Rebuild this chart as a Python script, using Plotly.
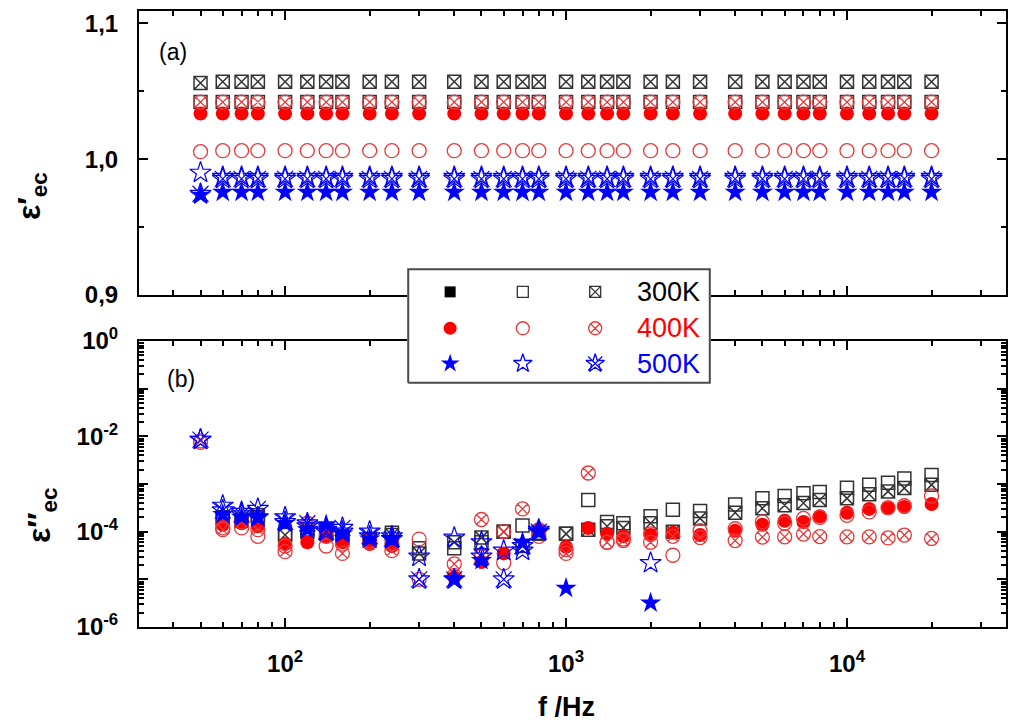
import plotly.graph_objects as go

# Measurement frequencies (Hz)
freq = [50, 60, 70, 80, 100, 120, 140, 160, 200, 240, 300, 400, 500, 600, 700, 800,
        1000, 1200, 1400, 1600, 2000, 2400, 3000, 4000, 5000, 6000, 7000, 8000,
        10000, 12000, 14000, 16000, 20000]

# ---- (a) real part eps'_ec ----
re_300_open = [1.042] * 33
re_300_cross = [1.056, 1.057, 1.057, 1.057, 1.057, 1.057, 1.057, 1.057, 1.057, 1.057, 1.057,
                1.057, 1.057, 1.057, 1.057, 1.057, 1.057, 1.057, 1.057, 1.057, 1.057, 1.057,
                1.057, 1.057, 1.057, 1.057, 1.057, 1.057, 1.057, 1.057, 1.057, 1.057, 1.057]
re_400_solid = [1.0335] * 33
re_400_open = [1.0055, 1.0062, 1.0062, 1.0062, 1.0062, 1.0062, 1.0062, 1.0062, 1.0062, 1.0062,
               1.0062, 1.0062, 1.0062, 1.0062, 1.0062, 1.0062, 1.0062, 1.0062, 1.0062, 1.0062,
               1.0062, 1.0062, 1.0062, 1.0062, 1.0062, 1.0062, 1.0062, 1.0062, 1.0062, 1.0062,
               1.0062, 1.0062, 1.0062]
re_400_cross = [1.042] * 33
re_500_solid = [0.9735, 0.9757, 0.9757, 0.9757, 0.9757, 0.9757, 0.9757, 0.9757, 0.9757, 0.9757,
                0.9757, 0.9757, 0.9757, 0.9757, 0.9757, 0.9757, 0.9757, 0.9757, 0.9757, 0.9757,
                0.9757, 0.9757, 0.9757, 0.9757, 0.9757, 0.9757, 0.9757, 0.9757, 0.9757, 0.9757,
                0.9757, 0.9757, 0.9757]
re_500_open = [0.990, 0.987, 0.987, 0.987, 0.987, 0.987, 0.987, 0.987, 0.987, 0.987, 0.987,
               0.987, 0.987, 0.987, 0.987, 0.987, 0.987, 0.987, 0.987, 0.987, 0.987, 0.987,
               0.987, 0.987, 0.987, 0.987, 0.987, 0.987, 0.987, 0.987, 0.987, 0.987, 0.987]
re_500_cross = [0.9745, 0.9855, 0.9855, 0.9855, 0.9855, 0.9855, 0.9855, 0.9855, 0.9855, 0.9855,
                0.9855, 0.9855, 0.9855, 0.9855, 0.9855, 0.9855, 0.9855, 0.9855, 0.9855, 0.9855,
                0.9855, 0.9855, 0.9855, 0.9855, 0.9855, 0.9855, 0.9855, 0.9855, 0.9855, 0.9855,
                0.9855, 0.9855, 0.9855]

# ---- (b) imaginary part eps''_ec ----
im_300_open = [None, 2.0e-4, 1.8e-4, 2.2e-4, 9e-5, 1.1e-4, 1.0e-4, 8e-5, 7e-5, 9.5e-5, 4.5e-5,
               4.5e-5, 6e-5, 1.0e-4, 1.35e-4, 9e-5, 9e-5, 4.6e-4, 1.6e-4, 1.5e-4, 2.1e-4,
               2.9e-4, 2.7e-4, 3.7e-4, 5.0e-4, 5.6e-4, 6.4e-4, 6.8e-4, 8.3e-4, 9.6e-4,
               1.06e-3, 1.3e-3, 1.55e-3]
im_300_cross = [None, 1.9e-4, 1.7e-4, 2.0e-4, 8.5e-5, 1.0e-4, 9e-5, 7.5e-5, 6.5e-5, 8.5e-5, 3.5e-5,
                6e-5, 7.5e-5, 1.0e-4, 5e-5, 9.5e-5, 9e-5, 1.1e-4, 1.3e-4, 1.2e-4, 1.5e-4,
                1.0e-4, 1.9e-4, 2.5e-4, 3.1e-4, 3.6e-4, 4.0e-4, 4.6e-4, 5.0e-4, 6.1e-4,
                7.0e-4, 8.2e-4, 9.6e-4]
im_400_solid = [None, 1.4e-4, 1.5e-4, 1.3e-4, 5.5e-5, 6e-5, 8e-5, 6e-5, 5.5e-5, 5e-5, None,
                1.1e-5, 2.3e-5, 3.5e-5, None, 1.1e-4, 4.8e-5, 1.2e-4, 9e-5, 8e-5, 8.5e-5,
                9.5e-5, 8.5e-5, 1.05e-4, 1.4e-4, 1.7e-4, 1.6e-4, 2.1e-4, 2.5e-4, 3.0e-4,
                3.1e-4, 3.3e-4, 3.8e-4]
im_400_open = [7.5e-3, 1.2e-4, 1.2e-4, 8e-5, 5e-5, 1.5e-4, 5e-5, 5.5e-5, 6e-5, 5.5e-5, 7e-5,
               1.2e-5, 3e-5, 2.2e-5, None, 8e-5, 4.2e-5, None, 6e-5, 7e-5, 9e-5,
               3.2e-5, 1.05e-4, 1.15e-4, 1.6e-4, 1.5e-4, 1.9e-4, 2.0e-4, 2.2e-4, 2.6e-4,
               3.2e-4, 3.5e-4, 5.6e-4]
im_400_cross = [8e-3, 1.1e-4, 1.6e-4, 1.1e-4, 3.8e-5, 1.3e-4, 8e-5, 3.5e-5, 6.5e-5, 4e-5, 1.0e-5,
                2.1e-5, 1.8e-4, 1.0e-4, 3.0e-4, 1.1e-4, 3.5e-5, 1.7e-3, 6e-5, 6.5e-5, 6e-5,
                8e-5, 7.5e-5, 6.5e-5, 7.7e-5, 7.8e-5, 8.9e-5, 7.9e-5, 7.8e-5, 7.8e-5,
                7.4e-5, 8.5e-5, 7.2e-5]
im_500_solid = [None, 2.3e-4, 2.0e-4, 2.0e-4, 1.5e-4, 1.1e-4, 1.4e-4, 9e-5, 7e-5, 7e-5, None,
                1.0e-5, 2.5e-5, None, 6e-5, 1.0e-4, 6.5e-6, None, None, None, 3.2e-6,
                None, None, None, None, None, None, None, None, None, None, None, None]
im_500_open = [8.5e-3, 3.5e-4, 2.6e-4, 2.0e-4, 2.0e-4, 1.3e-4, 1.1e-4, 1.0e-4, 1.0e-4, 8e-5, 3e-5,
               7.5e-5, 6e-5, 4e-5, 4e-5, 1.1e-4, None, None, None, None, 2.2e-5,
               None, None, None, None, None, None, None, None, None, None, None, None]
im_500_cross = [8.5e-3, 2.8e-4, 2.3e-4, 3.0e-4, 1.6e-4, 1.5e-4, 1.0e-4, 1.2e-4, 8e-5, 7e-5, 1.0e-5,
                1.0e-5, 3e-5, 1.0e-5, 5e-5, 1.0e-4, None, None, None, None, None,
                None, None, None, None, None, None, None, None, None, None, None, None]

temps = ["300K", "400K", "500K"]
temp_colors = ["#000000", "#ff0000", "#0000ff"]

BLACK = "#333333"
RED = "#ff0000"
RED_LINE = "#e8383a"
BLUE = "#0000ff"
FONT = "Liberation Sans, Arial, sans-serif"

fig = go.Figure()


def pts(x, y, symbol, color, size, lw, xa, ya, fill=None):
    fig.add_trace(go.Scatter(
        x=x, y=y, mode="markers", xaxis=xa, yaxis=ya, showlegend=False,
        hoverinfo="skip", cliponaxis=False,
        marker=dict(symbol=symbol, size=size, color=fill if fill else color,
                    line=dict(color=color, width=lw))))


def draw_panel(xa, ya, s300o, s300x, s400s, s400o, s400x, s500s, s500o, s500x):
    pts(freq, s300o, "square-open", BLACK, 13, 1.5, xa, ya)
    pts(freq, s300x, "square-x-open", BLACK, 13, 1.5, xa, ya)
    pts(freq, s400s, "circle", RED, 14, 0, xa, ya)
    pts(freq, s400o, "circle-open", RED_LINE, 14, 1.3, xa, ya)
    pts(freq, s400x, "circle-x-open", RED_LINE, 14, 1.3, xa, ya)
    pts(freq, s500s, "star", BLUE, 16, 0, xa, ya)
    pts(freq, s500o, "star-open", BLUE, 16, 1.2, xa, ya)
    pts(freq, s500x, "star-open", BLUE, 16, 1.2, xa, ya)
    pts(freq, s500x, "x-thin-open", BLUE, 16, 1.2, xa, ya)


draw_panel("x2", "y2", re_300_open, re_300_cross, re_400_solid, re_400_open, re_400_cross,
           re_500_solid, re_500_open, re_500_cross)
draw_panel("x", "y", im_300_open, im_300_cross, im_400_solid, im_400_open, im_400_cross,
           im_500_solid, im_500_open, im_500_cross)

# ---- key box (drawn in its own small subplot so it sits above the axes lines) ----
fig.add_trace(go.Scatter(x=[0, 1, 1, 0, 0], y=[0, 0, 1, 1, 0], mode="lines", fill="toself",
                         fillcolor="white", line=dict(color="#4a4a4a", width=2),
                         xaxis="x3", yaxis="y3", showlegend=False, hoverinfo="skip"))
key_cols = [0.139, 0.38, 0.62]
key_rows = [0.80, 0.48, 0.17]
key_syms = [["square", "square-open", "square-x-open"],
            ["circle", "circle-open", "circle-x-open"],
            ["star", "star-open", "star-open"]]
key_line = [[BLACK, BLACK, BLACK], [RED, RED_LINE, RED_LINE], [BLUE, BLUE, BLUE]]
key_size = [[11, 11, 11], [13, 13, 13], [14, 14, 14]]
for r in range(3):
    for c in range(3):
        pts([key_cols[c]], [key_rows[r]], key_syms[r][c], key_line[r][c], key_size[r][c],
            0 if c == 0 else 1.3, "x3", "y3",
            fill=("#000000" if r == 0 else None) if c == 0 else None)
pts([key_cols[2]], [key_rows[2]], "x-thin-open", BLUE, 14, 1.2, "x3", "y3")

annotations = []
for r in range(3):
    annotations.append(dict(x=0.975, y=key_rows[r], xref="x3", yref="y3", text=temps[r],
                            showarrow=False, xanchor="right", yanchor="middle",
                            font=dict(size=27, color=temp_colors[r], family=FONT)))

panel_font = dict(size=23, color="black", family=FONT)
label_font = dict(size=32, color="black", family=FONT, weight="bold")
annotations += [
    dict(x=173 / 1011, y=1 - 52 / 725, text="(a)", font=panel_font),
    dict(x=181 / 1011, y=1 - 379 / 725, text="(b)", font=panel_font),
    dict(x=32 / 1011, y=1 - 196 / 725, text="ε′<sub>ec</sub>", textangle=-90, font=label_font),
    dict(x=41 / 1011, y=1 - 516 / 725, text="ε″<sub>ec</sub>", textangle=-90, font=label_font),
    dict(x=566 / 1011, y=1 - 707 / 725, text="f /Hz",
         font=dict(size=27, color="black", family=FONT, weight="bold")),
]
for a in annotations[-5:]:
    a.update(xref="paper", yref="paper", showarrow=False, xanchor="center", yanchor="middle")

tick_font = dict(size=24, color="black", family=FONT, weight="bold")

x_range = [1.48, 4.566]
x_major = [100, 1000, 10000]
x_major_text = ["10<sup>2</sup>", "10<sup>3</sup>", "10<sup>4</sup>"]
x_minor = [m * 10 ** e for e in range(1, 5) for m in range(2, 10)]

y_major = [1e-6, 1e-5, 1e-4, 1e-3, 1e-2, 1e-1, 1e0]
y_major_text = ["10<sup>-6</sup>", "", "10<sup>-4</sup>", "", "10<sup>-2</sup>", "", "10<sup>0</sup>"]
y_minor = [m * 10 ** e for e in range(-6, 0) for m in range(2, 10)]

common_axis = dict(showline=True, linecolor="black", linewidth=2, mirror="allticks",
                   ticks="inside", ticklen=9, tickwidth=2, tickcolor="black",
                   showgrid=False, zeroline=False, automargin=False)
minor_ticks = dict(ticks="inside", ticklen=5, tickwidth=1.5, tickcolor="black")

fig.update_layout(
    width=1011, height=725,
    margin=dict(l=0, r=0, t=0, b=0, autoexpand=False),
    paper_bgcolor="white", plot_bgcolor="white",
    separators=", ",
    showlegend=False,
    annotations=annotations,
    xaxis=dict(domain=[139 / 1011, 1006 / 1011], anchor="y", type="log", range=x_range,
               tickmode="array", tickvals=x_major, ticktext=x_major_text,
               tickfont=tick_font, ticklabelstandoff=14,
               minor=dict(tickmode="array", tickvals=x_minor, **minor_ticks),
               **common_axis),
    yaxis=dict(domain=[1 - 627 / 725, 1 - 341 / 725], anchor="x", type="log", range=[-6, 0],
               tickmode="array", tickvals=y_major, ticktext=y_major_text,
               tickfont=tick_font, ticklabelstandoff=14,
               minor=dict(tickmode="array", tickvals=y_minor, **minor_ticks),
               **common_axis),
    xaxis2=dict(domain=[139 / 1011, 1006 / 1011], anchor="y2", type="log", range=x_range,
                tickmode="array", tickvals=x_major, showticklabels=False,
                minor=dict(tickmode="array", tickvals=x_minor, **minor_ticks),
                **common_axis),
    yaxis2=dict(domain=[1 - 295 / 725, 1 - 11 / 725], anchor="x2", range=[0.9, 1.109],
                tickmode="array", tickvals=[0.9, 1.0, 1.1], tickformat=".1f",
                tickfont=tick_font, ticklabelstandoff=14,
                minor=dict(tickmode="array", tickvals=[0.95, 1.05], **minor_ticks),
                **common_axis),
    xaxis3=dict(domain=[407 / 1011, 711 / 1011], anchor="y3", range=[-0.004, 1.004],
                visible=False, fixedrange=True, automargin=False),
    yaxis3=dict(domain=[1 - 384 / 725, 1 - 268 / 725], anchor="x3", range=[-0.01, 1.01],
                visible=False, fixedrange=True, automargin=False),
)

fig.write_html("out.html")
